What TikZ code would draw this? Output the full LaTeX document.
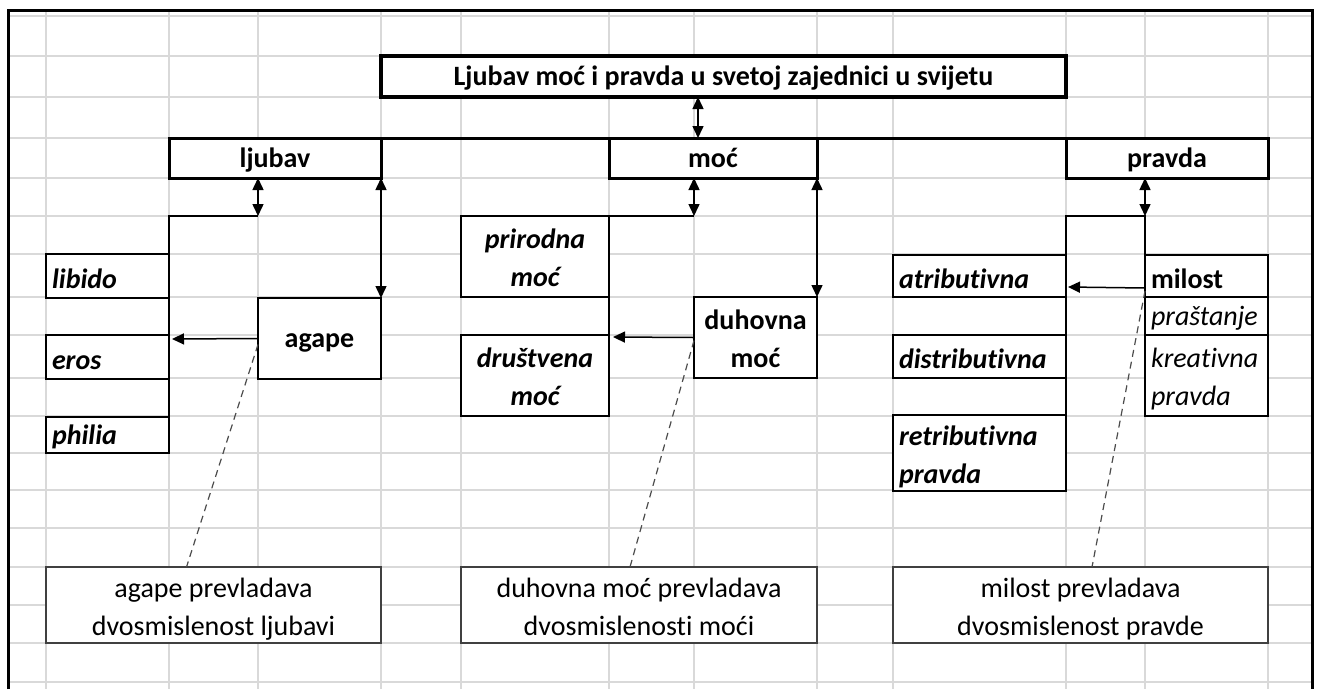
\documentclass[tikz,border=0pt]{standalone}
\usepackage{fontspec}
\setmainfont{Carlito}[Ligatures={NoCommon,NoContextual}, Contextuals=NoAlternate]
\usepackage{tikz}
\usetikzlibrary{arrows.meta}
\tikzset{
    >={Triangle[length=12pt,width=11pt]},
    gridline/.style={draw=black!15, line width=1.3pt},
    box/.style={draw=black, fill=white, line width=1.8pt, inner sep=0pt, inner xsep=6pt, outer sep=0pt},
    cell/.style={box, text height=24pt, text depth=0pt},
    head/.style={box, line width=3pt, text height=18pt, text depth=0pt, font=\bfseries},
    note/.style={box, draw=black!75, align=center},
    link/.style={line width=1.5pt},
    hint/.style={draw=black!70, line width=1.2pt, dash pattern=on 7pt off 5pt}}
\newcommand{\celltop}{\rule{0pt}{30pt}}
\newcommand{\cellbot}{\rule[-8pt]{0pt}{8pt}}

\begin{document}
\fontsize{28}{38}\selectfont
\begin{tikzpicture}[x=1pt, y=-1pt]

            \useasboundingbox (0,0) rectangle (1317,689);
            \fill[white] (0,0) rectangle (1317,689);

            % sheet grid
            \foreach \gx in {46,169,258,381,461,609,694,817,893,1066,1145,1268}
                \draw[gridline] (\gx,10) -- (\gx,689);
            \foreach \gy in {16,56,97,138,178,216,254,297,335,378,416,453,490,528,567,605,643,682}
                \draw[gridline] (8,\gy) -- (1312,\gy);
            \draw[line width=3pt] (8,689) -- (8,10) -- (1312,10) -- (1312,689);

            \node[head, line width=3.5pt, minimum width=685pt, minimum height=41pt] (T) at (723.5,76.5) {Ljubav moć i pravda u svetoj zajednici u svijetu};
            \node[head, minimum width=212pt, minimum height=40pt] (L) at (275,158) {ljubav};
            \node[head, minimum width=208pt, minimum height=40pt] (M) at (713,158) {moć};
            \node[head, minimum width=202pt, minimum height=40pt] (P) at (1167,158) {pravda};
            \draw[line width=3pt] (L.north west) -- (P.north east);

            % ljubav
            \node[cell, font=\bfseries\itshape, text width=111pt, align=left, minimum height=44pt] (Lb) at (107.5,276) {libido};
            \node[cell, font=\bfseries\itshape, text width=111pt, align=left, minimum height=44pt] (Er) at (107.5,357) {eros};
            \node[cell, font=\bfseries\itshape, text width=111pt, align=left, minimum height=36pt, text height=18pt] (Ph) at (107.5,435) {philia};
            \node[cell, font=\bfseries, minimum width=123pt, minimum height=81pt, text height=18pt] (Ag) at (319.5,338.5) {agape};

            % moc
            \node[box, font=\bfseries\itshape, align=center, minimum width=148pt, minimum height=81pt] (Pm) at (535,256.5) {\celltop prirodna\\moć\cellbot};
            \node[box, font=\bfseries\itshape, align=center, minimum width=148pt, minimum height=81pt] (Dm) at (535,375.5) {\celltop društvena\\moć\cellbot};
            \node[box, font=\bfseries, align=center, minimum width=123pt, minimum height=81pt] (Du) at (755.5,337.5) {\celltop duhovna\\moć\cellbot};

            % pravda
            \node[cell, font=\bfseries\itshape, text width=161pt, align=left, minimum height=42pt] (At) at (979.5,276) {atributivna};
            \node[cell, font=\bfseries\itshape, text width=161pt, align=left, minimum height=43pt] (Di) at (979.5,356.5) {distributivna};
            \node[box, font=\bfseries\itshape, text width=161pt, align=left, minimum height=74pt] (Re) at (979.5,453) {\celltop retributivna\\pravda\cellbot};
            \node[cell, font=\bfseries, text width=111pt, align=left, minimum height=42pt] (Mi) at (1206.5,276) {milost};
            \node[cell, font=\itshape, text width=111pt, align=left, minimum height=38pt, text height=18pt] (Pr) at (1206.5,316) {praštanje};
            \node[box, font=\itshape, text width=111pt, align=left, minimum height=81pt] (Kr) at (1206.5,375.5) {\celltop kreativna\\pravda\cellbot};

            \node[note, minimum width=335pt, minimum height=76pt] (B1) at (213.5,605) {\celltop agape prevladava\\dvosmislenost ljubavi\cellbot};
            \node[note, minimum width=356pt, minimum height=76pt] (B2) at (639,605) {\celltop duhovna moć prevladava\\dvosmislenosti moći\cellbot};
            \node[note, minimum width=375pt, minimum height=76pt] (B3) at (1080.5,605) {\celltop milost prevladava\\dvosmislenost pravde\cellbot};

            \coordinate (Tk) at (698,138);
            \coordinate (Lk) at (258,216);
            \coordinate (Mk) at (694,216);
            \coordinate (Pk) at (1145,216);

            \draw[link, <->] (T.south -| Tk) -- (Tk);

            \draw[link, <->] (L.south -| Lk) -- (Lk);
            \draw[link] (Lk) -- (Lk -| Lb.east) -- (Ph.south east);
            \draw[link, <->] (L.south east) -- (Ag.north east);
            \draw[link, ->] (Ag.west) -- ([xshift=3pt, yshift=-4pt]Er.north east);
            \draw[hint] ([yshift=-6pt]Ag.west) -- ([xshift=-27pt]B1.north);

            \draw[link, <->] (M.south -| Mk) -- (Mk);
            \draw[link] (Mk) -- (Pm.north east) -- (Dm.south east);
            \draw[link, <->] (M.south east) -- (Du.north east);
            \draw[link, ->] (Du.west) -- ([xshift=4pt, yshift=-2pt]Dm.north east);
            \draw[hint] ([yshift=-3pt]Du.west) -- ([xshift=-9pt]B2.north);

            \draw[link, <->] (P.south -| Pk) -- (Pk);
            \draw[link] (Mi.north west) -- (Pk) -- (At.north east |- Pk) -- (Re.south east);
            \draw[link, ->] ([yshift=-12pt]Mi.west) -- ([xshift=2pt, yshift=-11pt]At.east);
            \draw[hint] ([yshift=-15pt]Mi.west) -- ([xshift=11.5pt]B3.north);

        \end{tikzpicture}
\end{document}
